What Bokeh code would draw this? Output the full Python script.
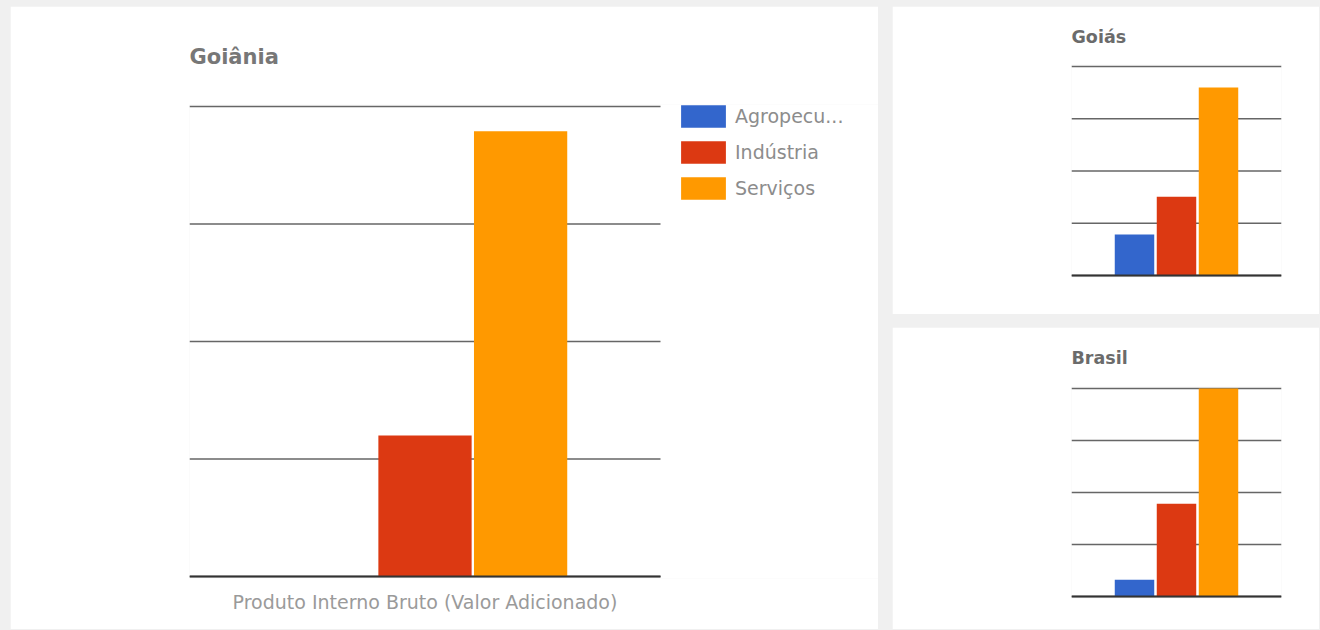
from bokeh.plotting import figure
from bokeh.models import (Range1d, FixedTicker, Legend, LegendItem,
                          ColumnDataSource, GlobalInlineStyleSheet)
from bokeh.transform import dodge
from bokeh.layouts import row, column
from bokeh.embed import file_html
from bokeh.resources import INLINE

# ---------------- data ----------------
category = ["Produto Interno Bruto (Valor Adicionado)"]
series = ["Agropecuária", "Indústria", "Serviços"]
legend_labels = ["Agropecu...", "Indústria", "Serviços"]
colors = ["#3366cc", "#dc3912", "#ff9900"]

goiania_values = [0.1, 24.0, 75.8]
goias_values = [13.3, 25.6, 61.0]
brasil_values = [5.3, 29.2, 65.5]

goiania_gridmax = 80.0
goias_gridmax = 67.85
brasil_gridmax = 65.5

FONT = "DejaVu Sans"


def make_chart(title, values, gridmax, w, h, left, top, frame_w, grid_px, cat_px,
               offset, bar_w, title_size, title_color, title_standoff, show_label):
    u = gridmax / grid_px          # data units per pixel
    frame_h = grid_px + 4          # 2px headroom above top gridline / below baseline
    cat_x = [i + 0.5 for i in range(len(category))]
    n_cat = len(category)
    p = figure(width=w, height=h, x_range=Range1d(0, frame_w / cat_px),
               y_range=Range1d(-2 * u, gridmax + 2 * u), output_backend="svg",
               toolbar_location=None, title=title,
               min_border_left=left, min_border_top=top,
               min_border_right=w - left - frame_w,
               min_border_bottom=h - top - frame_h)
    p.outline_line_color = None
    p.background_fill_color = "white"
    p.border_fill_color = "white"

    p.title.text_font = FONT
    p.title.text_font_size = title_size
    p.title.text_font_style = "bold"
    p.title.text_color = title_color
    p.title.align = "left"
    p.title.standoff = title_standoff
    p.title.offset = 0

    p.yaxis.visible = False
    p.xgrid.visible = False
    p.ygrid.visible = False

    if show_label:
        ax = p.xaxis[0]
        ax.ticker = FixedTicker(ticks=cat_x)
        ax.major_label_overrides = {x: c for x, c in zip(cat_x, category)}
        ax.axis_line_color = None
        ax.major_tick_line_color = None
        ax.minor_tick_line_color = None
        ax.major_tick_in = 0
        ax.major_tick_out = 0
        ax.major_label_standoff = 12
        ax.major_label_text_font = FONT
        ax.major_label_text_font_size = "19px"
        ax.major_label_text_color = "#9a9a9a"
    else:
        p.xaxis.visible = False

    # horizontal gridlines spanning the category area only
    ticks = [gridmax * i / 4 for i in range(5)]
    p.segment(x0=[0] * len(ticks), x1=[n_cat] * len(ticks), y0=ticks, y1=ticks,
              line_color="#666666", line_width=1.5)

    renderers = []
    for i, (name, v, c) in enumerate(zip(series, values, colors)):
        src = ColumnDataSource(dict(x=cat_x, val=[v]))
        r = p.vbar(x=dodge("x", (i - 1) * offset), top="val", bottom=0,
                   width=bar_w, source=src, fill_color=c, line_color=None,
                   name=name)
        renderers.append(r)

    # baseline
    p.segment(x0=[0], x1=[n_cat], y0=[0], y1=[0], line_color="#333333",
              line_width=2)
    return p, renderers


main, rs = make_chart("Goiânia", goiania_values, goiania_gridmax,
                      w=868, h=623, left=179, top=98, frame_w=689, grid_px=470,
                      cat_px=471, offset=0.203, bar_w=0.198, title_size="21px",
                      title_color="#777777", title_standoff=71, show_label=True)

legend = Legend(items=[LegendItem(label=l, renderers=[r])
                       for l, r in zip(legend_labels, rs)],
                location=(486, 376), padding=0, margin=0, spacing=8,
                glyph_width=56, glyph_height=28, label_standoff=4,
                label_text_font=FONT, label_text_font_size="19px",
                label_text_color="#8c8c8c", background_fill_alpha=0,
                border_line_color=None)
main.add_layout(legend)

goias, _ = make_chart("Goiás", goias_values, goias_gridmax,
                      w=427, h=308, left=179, top=58, frame_w=210, grid_px=209,
                      cat_px=210, offset=0.2, bar_w=0.188, title_size="17.5px",
                      title_color="#6b6b6b", title_standoff=35, show_label=False)

brasil, _ = make_chart("Brasil", brasil_values, brasil_gridmax,
                       w=427, h=302, left=179, top=58, frame_w=210, grid_px=209,
                       cat_px=210, offset=0.2, bar_w=0.188, title_size="17.5px",
                       title_color="#6b6b6b", title_standoff=37, show_label=False)

layout = row(main, column(goias, brasil, spacing=13), spacing=14,
             margin=(6, 0, 0, 10),
             stylesheets=[GlobalInlineStyleSheet(css="body{background:#f0f0f0;}")])

open("out.html", "w").write(file_html(layout, INLINE))
